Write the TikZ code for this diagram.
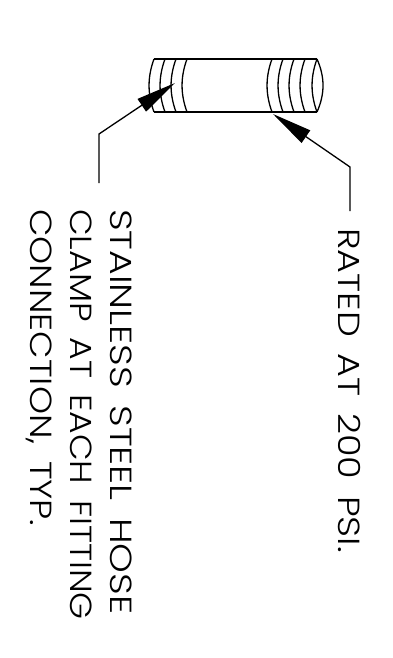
\documentclass[tikz,border=0pt]{standalone}
\usepackage{fontspec}
\setmainfont{Poppins}[UprightFont=* Light]
\usetikzlibrary{arrows.meta}
\newcommand{\widespace}{\spaceskip 14pt\relax}
\tikzset{
  line/.style={draw=black,line width=1.3pt},
  leader/.style={line,-{Triangle[length=40pt,width=15pt]}},
  note/.style={rotate=-90,anchor=north west,inner sep=0pt,font=\fontsize{30.5}{30.5}\selectfont,execute at begin node={\widespace},text=black}
}
\newcommand{\band}[1]{\draw[line] (#1,59) .. controls (#1-6.6,77) and (#1-6.6,94) .. (#1,112);}
\begin{document}
\begin{tikzpicture}[x=1pt,y=-1pt]
\useasboundingbox (0,0) rectangle (393,658);
\draw[line] (154,59) -- (317,59);
\draw[line] (154,112) -- (317,112);
\foreach \x in {154,165,176,187,272,283,294,305,317} {\band{\x}}
\draw[line] (317,59) .. controls (325,77) and (325,94) .. (317,112);
\coordinate (a0) at (99,183);
\coordinate (a1) at (99,134);
\coordinate (a2) at (175,83);
\coordinate (b0) at (350,211);
\coordinate (b1) at (350,167);
\coordinate (b2) at (273,114);
\draw[leader] (a0) -- (a1) -- (a2);
\draw[leader] (b0) -- (b1) -- (b2);
\node[note,xscale=1.24] (n1) at (132,209) {STAINLESS STEEL HOSE};
\node[note,xscale=1.135] (n2) at (92,209) {CLAMP AT EACH FITTING};
\node[note,xscale=1.17] (n3) at (52,209) {CONNECTION, TYP.};
\node[note,xscale=1.2] (n4) at (361,228) {RATED AT 200 PSI.};
\end{tikzpicture}
\end{document}
